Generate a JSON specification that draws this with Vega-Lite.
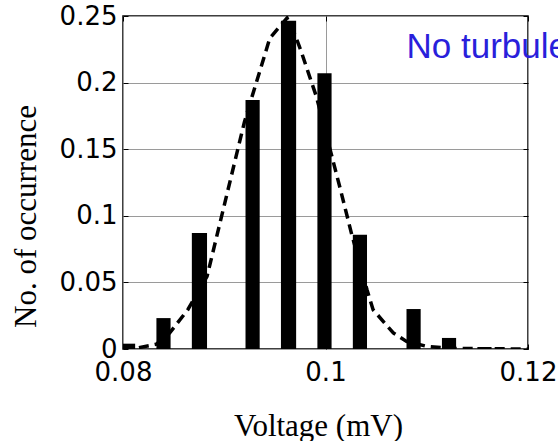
{
  "$schema": "https://vega.github.io/schema/vega-lite/v6.json",
  "width": 405,
  "height": 333,
  "autosize": {"type": "none"},
  "padding": {"left": 123, "top": 16, "right": 30, "bottom": 92},
  "background": "white",
  "config": {
    "view": {"stroke": "black", "strokeWidth": 1.5},
    "axis": {
      "labelFont": "DejaVu Sans",
      "labelFontSize": 26,
      "labelColor": "black",
      "labelFlush": false,
      "labelOverlap": false,
      "titleFont": "Liberation Serif",
      "titleFontSize": 31,
      "titleFontWeight": "normal",
      "titleColor": "black",
      "domain": false,
      "tickColor": "black",
      "tickSize": -5,
      "tickWidth": 1,
      "gridColor": "#9a9a9a",
      "gridWidth": 1,
      "gridOpacity": 1
    }
  },
  "datasets": {
    "bars": [
      {"x0": 0.0798, "x1": 0.0812, "p": 0.004},
      {"x0": 0.0833, "x1": 0.0847, "p": 0.0232},
      {"x0": 0.0868, "x1": 0.0883, "p": 0.087},
      {"x0": 0.0921, "x1": 0.0935, "p": 0.187},
      {"x0": 0.0956, "x1": 0.0971, "p": 0.2465},
      {"x0": 0.0992, "x1": 0.1006, "p": 0.207},
      {"x0": 0.1027, "x1": 0.1041, "p": 0.0857},
      {"x0": 0.108, "x1": 0.1094, "p": 0.03},
      {"x0": 0.1115, "x1": 0.1129, "p": 0.0083},
      {"x0": 0.115, "x1": 0.1164, "p": 0.0015}
    ],
    "curve": [
      {"v": 0.08, "f": 0.0},
      {"v": 0.0814, "f": 0.0008},
      {"v": 0.0833, "f": 0.0036},
      {"v": 0.0846, "f": 0.012},
      {"v": 0.0864, "f": 0.0295},
      {"v": 0.0883, "f": 0.0545},
      {"v": 0.092, "f": 0.1707},
      {"v": 0.0927, "f": 0.1883},
      {"v": 0.0945, "f": 0.2333},
      {"v": 0.0962, "f": 0.2485},
      {"v": 0.097, "f": 0.2358},
      {"v": 0.0976, "f": 0.2233},
      {"v": 0.0991, "f": 0.1895},
      {"v": 0.1014, "f": 0.122},
      {"v": 0.1026, "f": 0.0857},
      {"v": 0.1041, "f": 0.0445},
      {"v": 0.1047, "f": 0.0295},
      {"v": 0.1067, "f": 0.012},
      {"v": 0.108, "f": 0.0057},
      {"v": 0.11, "f": 0.002},
      {"v": 0.1123, "f": 0.0004},
      {"v": 0.12, "f": 0.0}
    ],
    "note": [{"v": 0.108, "f": 0.2185, "t": "No turbulence"}]
  },
  "resolve": {"axis": {"x": "independent", "y": "independent"}},
  "layer": [
    {
      "data": {"name": "bars"},
      "mark": {"type": "bar", "color": "black", "clip": true},
      "encoding": {
        "x": {
          "field": "x0", "type": "quantitative",
          "scale": {"domain": [0.08, 0.12], "nice": false, "zero": false},
          "axis": {"values": [0.08, 0.1, 0.12], "format": ".2~f", "title": "Voltage (mV)", "labelPadding": 15, "titleX": 195, "titleY": 86, "titleBaseline": "alphabetic", "titleAnchor": "start", "titleAlign": "center"}
        },
        "x2": {"field": "x1"},
        "y": {
          "field": "p", "type": "quantitative",
          "scale": {"domain": [0, 0.25], "nice": false, "zero": true},
          "axis": {"values": [0, 0.05, 0.1, 0.15, 0.2, 0.25], "format": ".2~f", "title": "No. of occurrence", "labelPadding": 11, "titleX": -112, "titleY": 200, "titleBaseline": "top", "titleAnchor": "start", "titleAlign": "center", "titleAngle": -90}
        },
        "y2": {"datum": 0}
      }
    },
    {
      "data": {"name": "curve"},
      "mark": {"type": "line", "color": "black", "strokeWidth": 3.5, "strokeDash": [10, 6], "clip": true},
      "encoding": {
        "x": {"field": "v", "type": "quantitative", "scale": {"domain": [0.08, 0.12], "nice": false, "zero": false}, "axis": {"orient": "top", "labels": false, "grid": false, "title": null, "values": [0.08, 0.1, 0.12]}},
        "y": {"field": "f", "type": "quantitative", "scale": {"domain": [0, 0.25], "nice": false, "zero": true}, "axis": {"orient": "right", "labels": false, "grid": false, "title": null, "values": [0, 0.05, 0.1, 0.15, 0.2, 0.25]}}
      }
    },
    {
      "data": {"name": "note"},
      "mark": {"type": "text", "align": "left", "baseline": "alphabetic", "font": "Liberation Sans", "fontSize": 35, "color": "#2a1fdb"},
      "encoding": {
        "x": {"field": "v", "type": "quantitative", "scale": {"domain": [0.08, 0.12], "nice": false, "zero": false}, "axis": null},
        "y": {"field": "f", "type": "quantitative", "scale": {"domain": [0, 0.25], "nice": false, "zero": true}, "axis": null},
        "text": {"field": "t"}
      }
    }
  ]
}
